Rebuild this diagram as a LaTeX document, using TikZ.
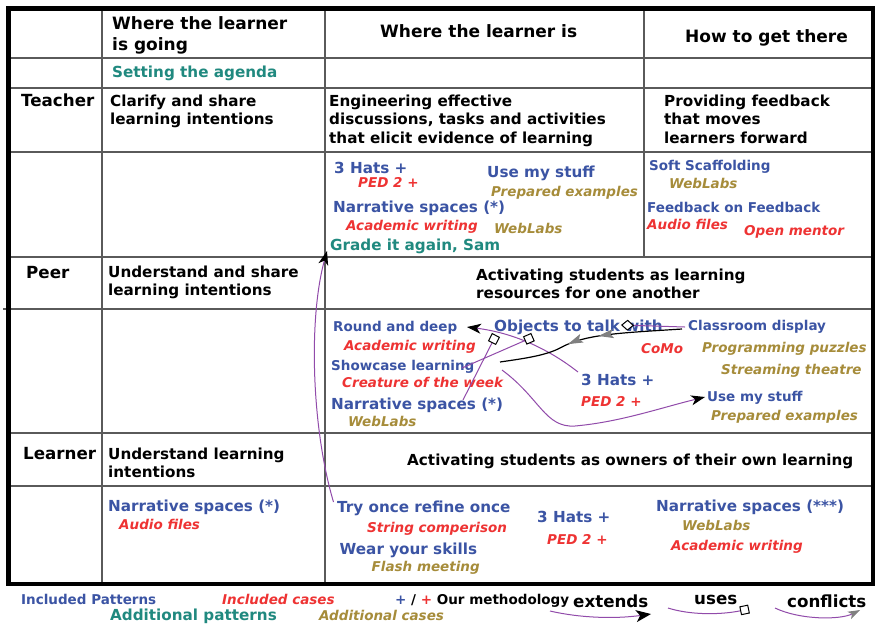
\documentclass[tikz,border=0pt]{standalone}
\usepackage{fontspec}
\setmainfont{DejaVu Sans}
\usetikzlibrary{arrows.meta,decorations.markings}
\definecolor{pblue}{RGB}{59,84,164}
\definecolor{cred}{RGB}{238,51,51}
\definecolor{colOlive}{RGB}{166,140,58}
\definecolor{colTeal}{RGB}{32,137,127}
\definecolor{lpurple}{RGB}{145,75,170}
\definecolor{gridgray}{RGB}{90,90,90}
\tikzset{
  txt/.style={anchor=base west, inner sep=0pt, align=left, font=\bfseries\fontsize{15.2}{18.7}\selectfont},
  hdr/.style={txt, font=\bfseries\fontsize{17}{21.5}\selectfont},
  rowlab/.style={txt, font=\bfseries\fontsize{16.7}{20}\selectfont},
  pat/.style={txt, text=pblue},
  pats/.style={txt, text=pblue, font=\bfseries\fontsize{13.5}{16}\selectfont},
  cas/.style={txt, text=cred, font=\bfseries\itshape\fontsize{13.5}{16}\selectfont},
  acas/.style={cas, text=colOlive},
  apat/.style={txt, text=colTeal},
  leg/.style={txt, font=\bfseries\fontsize{13.5}{16}\selectfont},
  legit/.style={leg, font=\bfseries\itshape\fontsize{13.5}{16}\selectfont},
  legbig/.style={txt, font=\bfseries\fontsize{16.7}{20}\selectfont},
  gridline/.style={draw=gridgray, line width=1.2pt},
  lnk/.style={draw=lpurple, line width=1pt},
  ext/.style={lnk, -{Stealth[length=14pt, width=10pt, inset=4pt, black]}},
  usesq/.style={lnk, -{Square[length=9pt, width=9pt, black, fill=white, line width=1pt]}},
  usedia/.style={lnk, -{Diamond[length=13pt, width=11pt, black, fill=white, line width=1pt]}},
  confl/.style={line width=1.2pt, black, postaction=decorate, decoration={markings,
     mark=at position 0.45 with {\arrow{Stealth[length=15pt, width=9pt, inset=3pt, gray]}},
     mark=at position 0.62 with {\arrow{Stealth[length=15pt, width=9pt, inset=3pt, gray]}}}},
}
\begin{document}
\begin{tikzpicture}[x=1pt,y=-1pt]
\useasboundingbox (0,0) rectangle (877,625);
\fill[white] (0,0) rectangle (877,625);

% grid
\draw[gridline] (102,8.5) -- (102,584);
\draw[gridline] (325,8.5) -- (325,584);
\draw[gridline] (644,8.5) -- (644,257);
\draw[gridline] (8.5,58) -- (873,58);
\draw[gridline] (8.5,88) -- (873,88);
\draw[gridline] (8.5,152) -- (873,152);
\draw[gridline] (8.5,257) -- (873,257);
\draw[gridline] (3,309) -- (873,309);
\draw[gridline] (8.5,433) -- (873,433);
\draw[gridline] (8.5,486) -- (873,486);
\draw[line width=4.5pt] (8.5,8.5) rectangle (873,584);

% header (multi-line nodes: base = baseline of last line)
\node[hdr] (h1) at (112,50.5) {Where the learner\\is going};
\node[hdr] (h2) at (380,37) {Where the learner is};
\node[hdr] (h3) at (685,42) {How to get there};
\node[apat] (agenda) at (112,77) {Setting the agenda};

% teacher
\node[rowlab] (teacher) at (21,106) {Teacher};
\node[txt] (t1) at (110,124.7) {Clarify and share\\learning intentions};
\node[txt] (t2) at (329,143.4) {Engineering effective\\discussions, tasks and activities\\that elicit evidence of learning};
\node[txt] (t3) at (664,143.4) {Providing feedback\\that moves\\learners forward};

% teacher examples
\node[pat] (te1) at (334,173) {3 Hats +};
\node[cas] (te2) at (358,187) {PED 2 +};
\node[pat] (te3) at (487,177) {Use my stuff};
\node[acas] (te4) at (491,196) {Prepared examples};
\node[pat] (te5) at (333,212) {Narrative spaces (*)};
\node[cas] (te6) at (346,230) {Academic writing};
\node[acas] (te7) at (494,233) {WebLabs};
\node[apat] (te8) at (330,250) {Grade it again, Sam};
\node[pats] (te9) at (649,170) {Soft Scaffolding};
\node[acas] (te10) at (669,188) {WebLabs};
\node[pats] (te11) at (647,212) {Feedback on Feedback};
\node[cas] (te12) at (647,229) {Audio files};
\node[cas] (te13) at (744,235) {Open mentor};

% peer
\node[rowlab] (peer) at (26,278) {Peer};
\node[txt] (p1) at (108,295.7) {Understand and share\\learning intentions};
\node[txt] (p2) at (476,298.7) {Activating students as learning\\resources for one another};

% peer examples
\node[pats] (pe1) at (333,331.5) {Round and deep};
\node[pat] (pe2) at (494,331) {Objects to talk with};
\node[pats] (pe3) at (688,330) {Classroom display};
\node[cas] (pe4) at (344,350.5) {Academic writing};
\node[cas] (pe5) at (641,353.5) {CoMo};
\node[acas] (pe6) at (702,352.5) {Programming puzzles};
\node[pats] (pe7) at (331,370.5) {Showcase learning};
\node[acas] (pe8) at (721,374) {Streaming theatre};
\node[cas] (pe9) at (342,387.5) {Creature of the week};
\node[pat] (pe10) at (581,385) {3 Hats +};
\node[pat] (pe11) at (331,409.5) {Narrative spaces (*)};
\node[cas] (pe12) at (581,406) {PED 2 +};
\node[pats] (pe13) at (707,401) {Use my stuff};
\node[acas] (pe14) at (348,426.5) {WebLabs};
\node[acas] (pe15) at (711,420.5) {Prepared examples};

% learner
\node[rowlab] (learner) at (23,459) {Learner};
\node[txt] (l1) at (108,477.7) {Understand learning\\intentions};
\node[txt] (l2) at (407,465) {Activating students as owners of their own learning};

% learner examples
\node[pat] (le1) at (108,511) {Narrative spaces (*)};
\node[cas] (le2) at (119,529) {Audio files};
\node[pat] (le3) at (337,512) {Try once refine once};
\node[cas] (le4) at (367,532) {String comperison};
\node[pat] (le5) at (339.5,554) {Wear your skills};
\node[acas] (le6) at (371.5,571) {Flash meeting};
\node[pat] (le7) at (537,522) {3 Hats +};
\node[cas] (le8) at (547,544) {PED 2 +};
\node[pat] (le9) at (656,511) {Narrative spaces (***)};
\node[acas] (le10) at (682,530.5) {WebLabs};
\node[cas] (le11) at (671,550) {Academic writing};

% connectors
\coordinate (c1a) at (578,372);
\coordinate (c1b) at (467,327);
\draw[ext] (c1a) .. controls (550,350) and (515,333) .. (c1b);
\coordinate (c2a) at (463,400);
\coordinate (c2b) at (496,335);
\draw[usesq] (c2a) -- (c2b);
\coordinate (c3a) at (462,368);
\coordinate (c3b) at (533,337);
\draw[usesq] (c3a) -- (c3b);
\coordinate (c4a) at (685,327);
\coordinate (c4b) at (621,325);
\draw[usedia] (c4a) -- (c4b);
\coordinate (c5a) at (682,329);
\coordinate (c5b) at (500,362);
\draw[confl] (c5a) .. controls (620,333) and (585,334) .. (560,348) .. controls (545,356) and (520,359) .. (c5b);
\coordinate (c6a) at (502,370);
\coordinate (c6b) at (705,397);
\draw[ext] (c6a) .. controls (540,398) and (545,428) .. (575,426) .. controls (620,422) and (660,408) .. (c6b);
\coordinate (c7a) at (333.5,502);
\coordinate (c7b) at (327,251);
\draw[ext] (c7a) .. controls (312,430) and (308,320) .. (c7b);

% legend
\node[leg, text=pblue] (lg1) at (21,604) {Included Patterns};
\node[legit, text=cred] (lg2) at (222,604) {Included cases};
\node[leg] (lg3) at (395,604) {\textcolor{pblue}{+} / \textcolor{cred}{+} Our methodology};
\node[apat] (lg4) at (110,620) {Additional patterns};
\node[legit, text=colOlive] (lg5) at (319,620) {Additional cases};
\node[legbig] (lg6) at (573,607.5) {extends};
\node[legbig] (lg7) at (694,604) {uses};
\node[legbig] (lg8) at (787,607.5) {conflicts};
\coordinate (k1a) at (550,611);
\coordinate (k1b) at (651,614);
\draw[lnk, -{Stealth[length=15pt, width=12pt, inset=4pt, black]}] (k1a) .. controls (580,618) and (615,619) .. (k1b);
\coordinate (k2a) at (668,608);
\coordinate (k2b) at (749,609);
\draw[usesq] (k2a) .. controls (690,615) and (720,615) .. (k2b);
\coordinate (k3a) at (775,608);
\coordinate (k3b) at (860,610);
\draw[lnk, -{Stealth[length=12pt, width=8pt, inset=3pt, gray]}] (k3a) .. controls (800,620) and (840,620) .. (k3b);
\end{tikzpicture}
\end{document}
